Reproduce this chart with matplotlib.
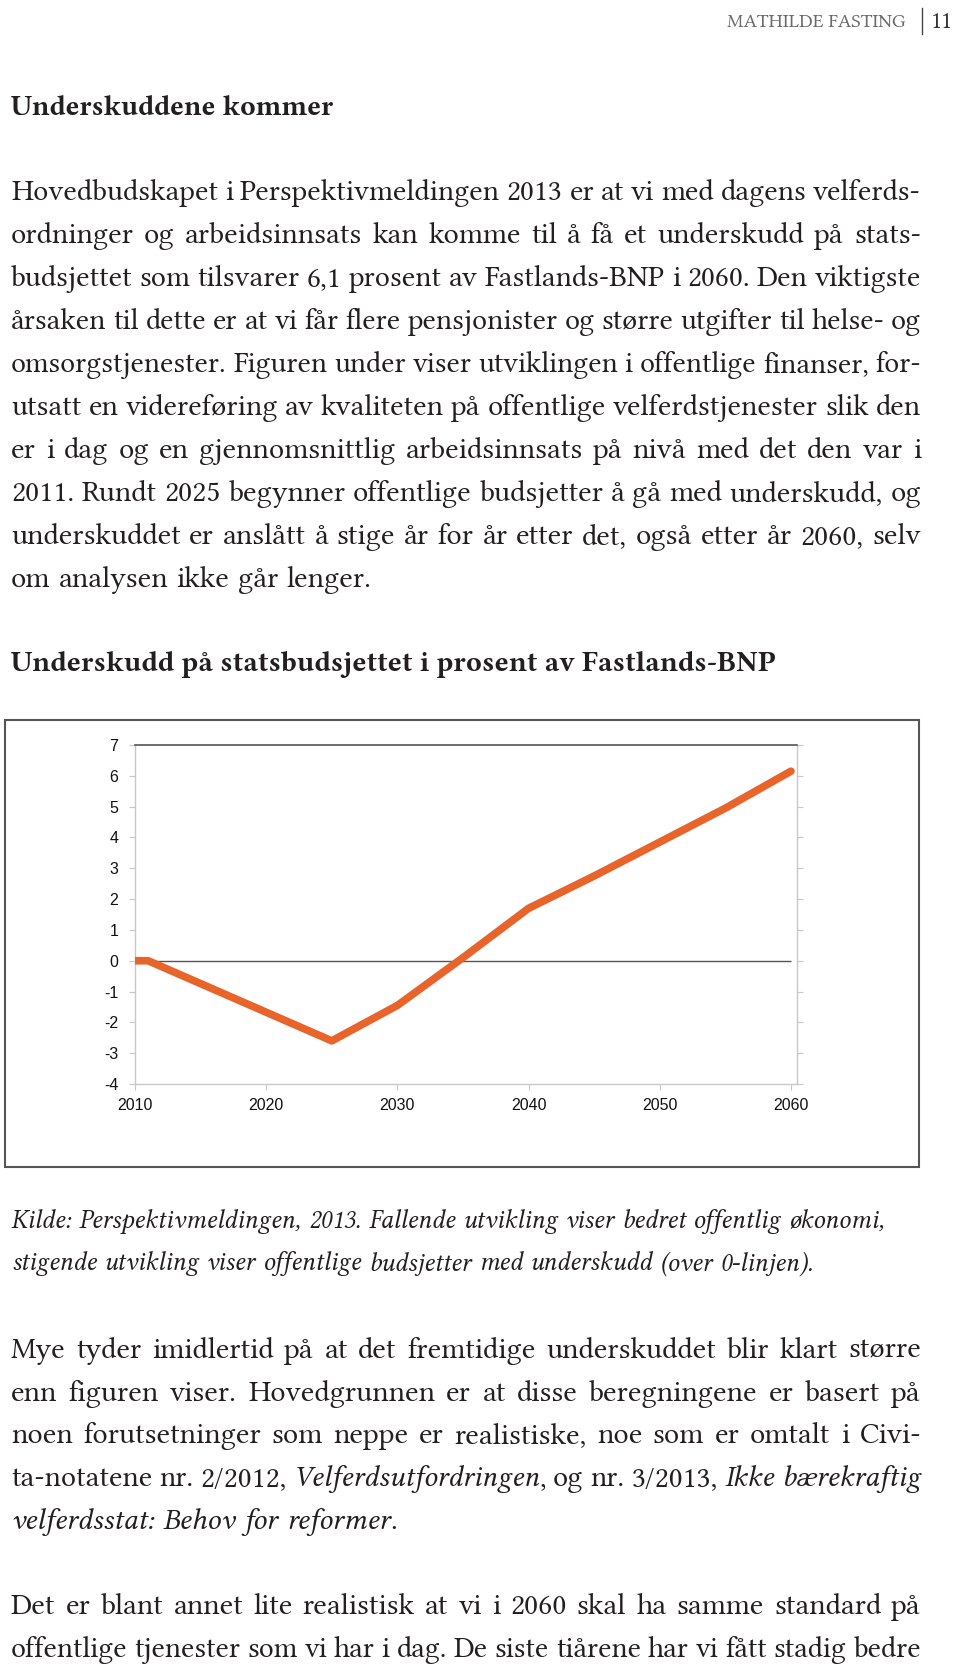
import matplotlib
matplotlib.use('Agg')
import matplotlib.pyplot as plt
from matplotlib.lines import Line2D
from matplotlib.patches import Rectangle

plt.rcParams['axes.unicode_minus'] = False

# page is 960 x 1672 px, everything below positioned in px from top-left
W, H, DPI = 960, 1672, 100
SERIF = ['Libertinus Serif', 'Liberation Serif']
SANS = 'Liberation Sans'
INK = '#231f20'
LEFT, RIGHT = 11, 921

# chart data (Perspektivmeldingen 2013)
years = [2010, 2011, 2025, 2030, 2035, 2040, 2045, 2050, 2055, 2060]
deficit = [0.0, 0.0, -2.6, -1.45, 0.1, 1.7, 2.75, 3.85, 4.95, 6.15]
xticks = [2010, 2020, 2030, 2040, 2050, 2060]
yticks = [-4, -3, -2, -1, 0, 1, 2, 3, 4, 5, 6, 7]

N, I = 'normal', 'italic'
header = "MATHILDE FASTING"
page_no = "11"
heading = "Underskuddene kommer"
chart_title = "Underskudd på statsbudsjettet i prosent av Fastlands-BNP"
para1 = [
    "Hovedbudskapet i Perspektivmeldingen 2013 er at vi med dagens velferds-",
    "ordninger og arbeidsinnsats kan komme til å få et underskudd på stats-",
    "budsjettet som tilsvarer 6,1 prosent av Fastlands-BNP i 2060. Den viktigste",
    "årsaken til dette er at vi får flere pensjonister og større utgifter til helse- og",
    "omsorgstjenester. Figuren under viser utviklingen i offentlige finanser, for-",
    "utsatt en videreføring av kvaliteten på offentlige velferdstjenester slik den",
    "er i dag og en gjennomsnittlig arbeidsinnsats på nivå med det den var i",
    "2011. Rundt 2025 begynner offentlige budsjetter å gå med underskudd, og",
    "underskuddet er anslått å stige år for år etter det, også etter år 2060, selv",
    "om analysen ikke går lenger.",
]
caption = [
    "Kilde: Perspektivmeldingen, 2013. Fallende utvikling viser bedret offentlig økonomi,",
    "stigende utvikling viser offentlige budsjetter med underskudd (over 0-linjen).",
]
para2 = [
    [("Mye tyder imidlertid på at det fremtidige underskuddet blir klart større", N)],
    [("enn figuren viser. Hovedgrunnen er at disse beregningene er basert på", N)],
    [("noen forutsetninger som neppe er realistiske, noe som er omtalt i Civi-", N)],
    [("ta-notatene nr. 2/2012, ", N), ("Velferdsutfordringen", I), (", og nr. 3/2013, ", N),
     ("Ikke bærekraftig", I)],
    [("velferdsstat: Behov for reformer", I), (".", N)],
]
para3 = [
    "Det er blant annet lite realistisk at vi i 2060 skal ha samme standard på",
    "offentlige tjenester som vi har i dag. De siste tiårene har vi fått stadig bedre",
]

fig = plt.figure(figsize=(W / DPI, H / DPI), dpi=DPI)
renderer = fig.canvas.get_renderer()


def fx(x):
    return x / W


def fy(y):
    return 1 - y / H


def fit(text, target, **kw):
    # font size that makes text about target px wide
    t = fig.text(0, 0, text, fontsize=10, family=SERIF, **kw)
    w = t.get_window_extent(renderer).width
    t.remove()
    return 10 * target / w


BODY = fit(para1[-1], 360)
CAP = fit(caption[0], 872, fontstyle='italic')
HEAD = fit(heading, 324, fontweight='bold')
TITLE = fit(chart_title, 764, fontweight='bold')
HDR = fit(header, 178)
MIN_GAP = 0.24  # em


def words_of(segs):
    words = [[]]
    for txt, st in segs:
        parts = txt.split(' ')
        for i, p in enumerate(parts):
            if i > 0:
                words.append([])
            if p:
                words[-1].append((p, st))
    return [w for w in words if w]


def place(words, y, size):
    objs, widths = [], []
    for w in words:
        pieces, wsum = [], 0
        for p, st in w:
            t = fig.text(0, fy(y), p, fontsize=size, fontstyle=st, family=SERIF,
                         color=INK, va='baseline', ha='left')
            bw = t.get_window_extent(renderer).width
            pieces.append((t, bw))
            wsum += bw
        objs.append(pieces)
        widths.append(wsum)
    return objs, sum(widths)


def text_line(segs, y, justify=True, size=None):
    size = size or BODY
    words = words_of(segs)
    n = len(words)
    objs, total = place(words, y, size)
    if justify and n > 1:
        em = size * DPI / 72
        if RIGHT - LEFT - total < (n - 1) * MIN_GAP * em:
            # too tight: set this line a little smaller
            for pieces in objs:
                for t, _ in pieces:
                    t.remove()
            size = (RIGHT - LEFT) / (total / size + (n - 1) * MIN_GAP * DPI / 72)
            objs, total = place(words, y, size)
        gap = (RIGHT - LEFT - total) / (n - 1)
    else:
        gap = size * 0.27 * DPI / 72
    x = LEFT
    for pieces in objs:
        for t, pw in pieces:
            t.set_x(fx(x))
            x += pw
        x += gap


# running header
fig.text(fx(905), fy(27), header, fontsize=HDR, family=SERIF, color='#6a6a6a',
         ha='right', va='baseline')
fig.add_artist(Line2D([fx(922), fx(922)], [fy(8), fy(34)], color='#444444', lw=1))
fig.text(fx(931), fy(28), page_no, fontsize=17, family=SERIF, color='#333333',
         ha='left', va='baseline')

fig.text(fx(LEFT), fy(115), heading, fontsize=HEAD, fontweight='bold',
         family=SERIF, color=INK, va='baseline')

for k, line in enumerate(para1):
    text_line([(line, N)], 200 + 43 * k, justify=k < len(para1) - 1)

fig.text(fx(LEFT), fy(671), chart_title, fontsize=TITLE, fontweight='bold',
         family=SERIF, color=INK, va='baseline')

# chart frame
fig.add_artist(Rectangle((fx(5), fy(1167)), fx(919) - fx(5), fy(720) - fy(1167),
                         fill=False, edgecolor='#555555', lw=1.5, transform=fig.transFigure))

ax = fig.add_axes([fx(135), fy(1084), fx(797) - fx(135), fy(745) - fy(1084)])
ax.plot(years, deficit, color='#e8642b', lw=5.5, solid_capstyle='round',
        solid_joinstyle='round', zorder=3)
ax.hlines(0, years[0], years[-1], color='#555555', lw=1, zorder=2)
ax.set_xlim(2010, 2060.46)
ax.set_ylim(-4, 7)
ax.set_xticks(xticks)
ax.set_yticks(yticks)
for s in ['left', 'bottom', 'right']:
    ax.spines[s].set_color('#c8c8c8')
    ax.spines[s].set_linewidth(1)
ax.spines['top'].set_color('#555555')
ax.spines['top'].set_linewidth(1.2)
ax.tick_params(axis='y', which='both', left=True, right=True, direction='out', length=4,
               color='#c8c8c8', labelsize=11.5, pad=8)
ax.tick_params(axis='x', direction='out', length=4, color='#c8c8c8', labelsize=11.5, pad=6)
for lab in ax.get_xticklabels() + ax.get_yticklabels():
    lab.set_family(SANS)
    lab.set_color('#111111')

for k, line in enumerate(caption):
    text_line([(line, I)], 1228 + 42 * k, justify=False, size=CAP)

for k, segs in enumerate(para2):
    text_line(segs, 1358 + 42.7 * k, justify=k < len(para2) - 1)

for k, line in enumerate(para3):
    text_line([(line, N)], 1614 + 42.7 * k, justify=True)

fig.savefig('out.png', dpi=DPI)
